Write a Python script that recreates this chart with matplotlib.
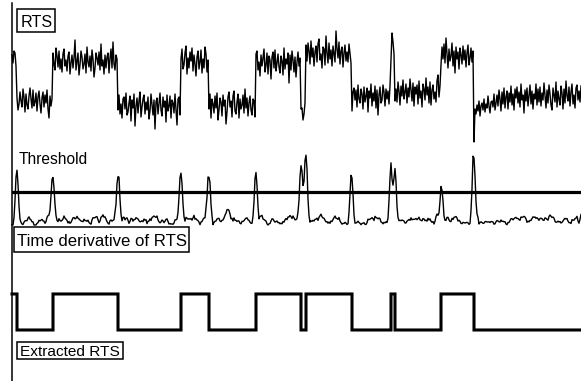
import numpy as np
import matplotlib
matplotlib.use("Agg")
import matplotlib.pyplot as plt
from matplotlib.lines import Line2D
from matplotlib.patches import Rectangle

# ---------------------------------------------------------------------------
# Data
# ---------------------------------------------------------------------------
# sample index at which the trap changes state
switch_times = [5, 41, 106, 169, 197, 244, 289, 294, 340, 379, 383, 429, 462]
# mean signal of each dwell interval (a.u.)
level_means = [40, 0, 38, -5, 38, -5, 37, -5, 45, 3, 50, 7, 43, 3]
# background noise riding on the two-level signal (a.u.)
rts_noise = [
    5, -3, 9, 7, -6, 2, -10, -4, 8, -1, -7, 11, 3, -12, 6, -5, -9, 4, 12, 1, -8, 10, -6, -2,
    7, -11, 3, 9, -4, -13, 2, 8, -7, 5, -3, 10, -9, -18, 4, -6, 1, 9, -2, -8, 14, 6, -5, 11,
    -7, 3, -10, 8, 13, -4, 2, -9, 6, 10, -12, -1, 7, -6, 4, 22, -8, 1, 9, -13, -3, 11, 5, -7,
    -2, 8, -11, 15, 0, -5, 6, -9, 12, 3, -15, -6, 9, 4, -3, 10, -8, 18, -4, 2, -12, 7, -6, 5,
    9, -11, 4, 13, -6, 20, -2, -8, 7, 3, -5, 10, -9, 1, -13, 6, 8, -4, 12, -10, -7, 2, 9, -16,
    5, -3, 11, -21, -1, 7, -8, 4, 13, -12, -2, 6, 10, -9, 3, -5, 8, -14, -6, 11, 1, -10, 5, -24,
    3, 7, -9, 1, 12, -5, -11, 8, -2, 4, -17, 10, -6, -1, 9, -13, 5, 2, -8, 11, -4, -20, 6, 8,
    -10, 3, 13, -7, -3, 9, 16, -12, 4, -6, 10, 1, 14, -9, 7, -2, -14, 5, 11, -7, 0, 12, -11, 3,
    -6, 15, 8, -10, 2, -4, 11, -13, 6, 1, -8, 9, -3, 12, -15, -5, 7, 3, -11, 10, -1, 5, -19, -7,
    8, 13, -2, 4, -12, 9, 14, -6, -9, 3, 11, -13, 6, -4, 0, 10, -8, 16, -3, 7, -11, 2, 9, -5,
    -10, 6, 4, -12, 9, 12, -7, 1, -13, 8, -3, 5, 14, -9, -2, 10, -11, 7, 3, -16, 6, 11, -5, 13,
    -8, 0, 9, -4, -10, 7, 2, -12, 15, -6, 4, -1, 10, -20, 8, -7, 12, 3, -9, 6, -14, 1, 11, -3,
    5, -4, -3, -15, -9, 2, 10, -6, 12, 4, -9, 14, -2, 7, -11, 3, 9, -7, 11, 16, -5, 1, -13, 8,
    6, -10, 19, 2, -8, 12, -4, 5, -11, 9, 1, -7, 24, 6, -3, 13, -9, 4, 8, -12, 2, 10, -6, 3,
    -7, 11, 2, -8, -14, 5, 9, -3, 7, -10, 12, -2, -6, 8, 3, -12, 10, -5, 1, 9, -15, 6, -1, 13,
    -9, 4, -4, 11, -11, 7, -18, 2, 10, -6, -3, 12, 5, -9, 8, -2, 6, -7, 11, -10, 17, 8, -4, -8,
    4, -9, 11, 2, -12, 7, -3, 13, -6, 1, 9, -10, 5, -4, 14, 3, -8, 10, -13, 6, -1, 8, -11, 12,
    -5, 2, -14, 9, 4, -7, 15, -2, 6, -10, 11, -12, 3, 8, -6, 1, -9, 12, 18, -4, 7, -8, 10, -2,
    13, -6, 19, 3, -11, 8, -4, 1, 14, -9, 6, -16, 10, -2, 5, -12, 9, 2, -7, 11, -3, 7, -10, 4,
    12, -8, -1, 9, -5, 6, -45, -12, -17, -8, -14, -4, -19, -9, -6, -13, -2, -15, -7, -11, 1, -9, -16, -5,
    -4, -10, 3, -13, -6, 2, -9, 7, -2, -14, 5, -7, 9, -11, 0, 6, -12, 4, -5, 11, -8, 3, -13, 8,
    -1, 10, -6, 5, -10, 13, -3, 2, -16, 7, -4, 9, -9, 1, 12, -7, 6, -12, 3, -2, 13, -8, 8, -5,
    10, -9, 4, -3, 14, 1, -11, 7, -6, 12, 3, -8, -13, 9, 2, -5, 15, -10, 6, -2, -8, 11, 4, -12,
    8, -6, 16, 1, -4, 10, -9, 5, 13, -7, 2, -11, 9, 12, -3, 6, -5, 11, -8, 3, 10, -6, 1, -4,
]
# detection threshold applied to the derivative (a.u.)
threshold = 33

# ---------------------------------------------------------------------------
# Signal processing
# ---------------------------------------------------------------------------
n_samples = 570
t = np.arange(n_samples)
segment = np.searchsorted(switch_times, t, side="right")
rts = np.asarray(level_means, dtype=float)[segment] + np.asarray(rts_noise[:n_samples], dtype=float)

# windowed difference (mean of next w samples minus mean of previous w), lightly smoothed
w = 3
kernel = np.r_[np.ones(w), -np.ones(w)] / w
padded = np.pad(rts, w, mode="edge")
deriv = np.abs(np.convolve(padded, kernel, mode="valid"))[:n_samples]
deriv = np.convolve(np.pad(deriv, 1, mode="edge"), np.ones(3) / 3, mode="valid")
deriv = np.clip(1.5 * deriv - 1.5, 0, None)

# two-state reconstruction: toggles at every detected switch
extracted = 1 - (segment % 2)

# ---------------------------------------------------------------------------
# Figure
# ---------------------------------------------------------------------------
W, H = 581, 381
fig = plt.figure(figsize=(W / 100, H / 100), dpi=100)
fig.patch.set_facecolor("white")


def fx(x):
    return x / W


def fy(y):
    return 1 - y / H


def panel(top, bottom):
    ax = fig.add_axes([fx(12), fy(bottom), 1 - fx(12), (bottom - top) / H])
    ax.set_axis_off()
    ax.set_xlim(0, n_samples - 1)
    return ax


ax_rts = panel(0, 150)
ax_rts.set_ylim(-50, 100)
ax_rts.plot(t, rts, color="black", lw=1.0, clip_on=False)

ax_der = panel(150, 240)
ax_der.set_ylim(-15, 75)
ax_der.plot(t, deriv, color="black", lw=1.0, clip_on=False)
ax_der.axhline(threshold, color="black", lw=2.3)

ax_ext = panel(260, 381)
ax_ext.set_ylim(-1.417, 1.944)
ax_ext.plot(t, extracted, color="black", lw=2.2, drawstyle="steps-post",
            solid_joinstyle="miter", clip_on=False)

# left frame line
fig.add_artist(Line2D([fx(11.5), fx(11.5)], [0, fy(3)], transform=fig.transFigure,
                      color="black", lw=1.1))

font = "Liberation Sans"


def label(s, x, yb, size, box=None):
    if box is not None:
        x0, y0, x1, y1 = box
        fig.add_artist(Rectangle((fx(x0), fy(y1)), (x1 - x0) / W, (y1 - y0) / H,
                                 transform=fig.transFigure, facecolor="white",
                                 edgecolor="black", lw=1.1, zorder=5))
    fig.text(fx(x), fy(yb), s, fontsize=size, family=font, ha="left",
             va="baseline", zorder=6)


label("RTS", 20.5, 27, 11.6, box=(17, 9, 55, 32))
label("Threshold", 18.5, 164, 11.2)
label("Time derivative of RTS", 17, 246.5, 12.1, box=(14, 227, 189, 252))
label("Extracted RTS", 20.5, 356.5, 11.1, box=(17, 342, 123, 359))

fig.savefig("out.png", dpi=100)
